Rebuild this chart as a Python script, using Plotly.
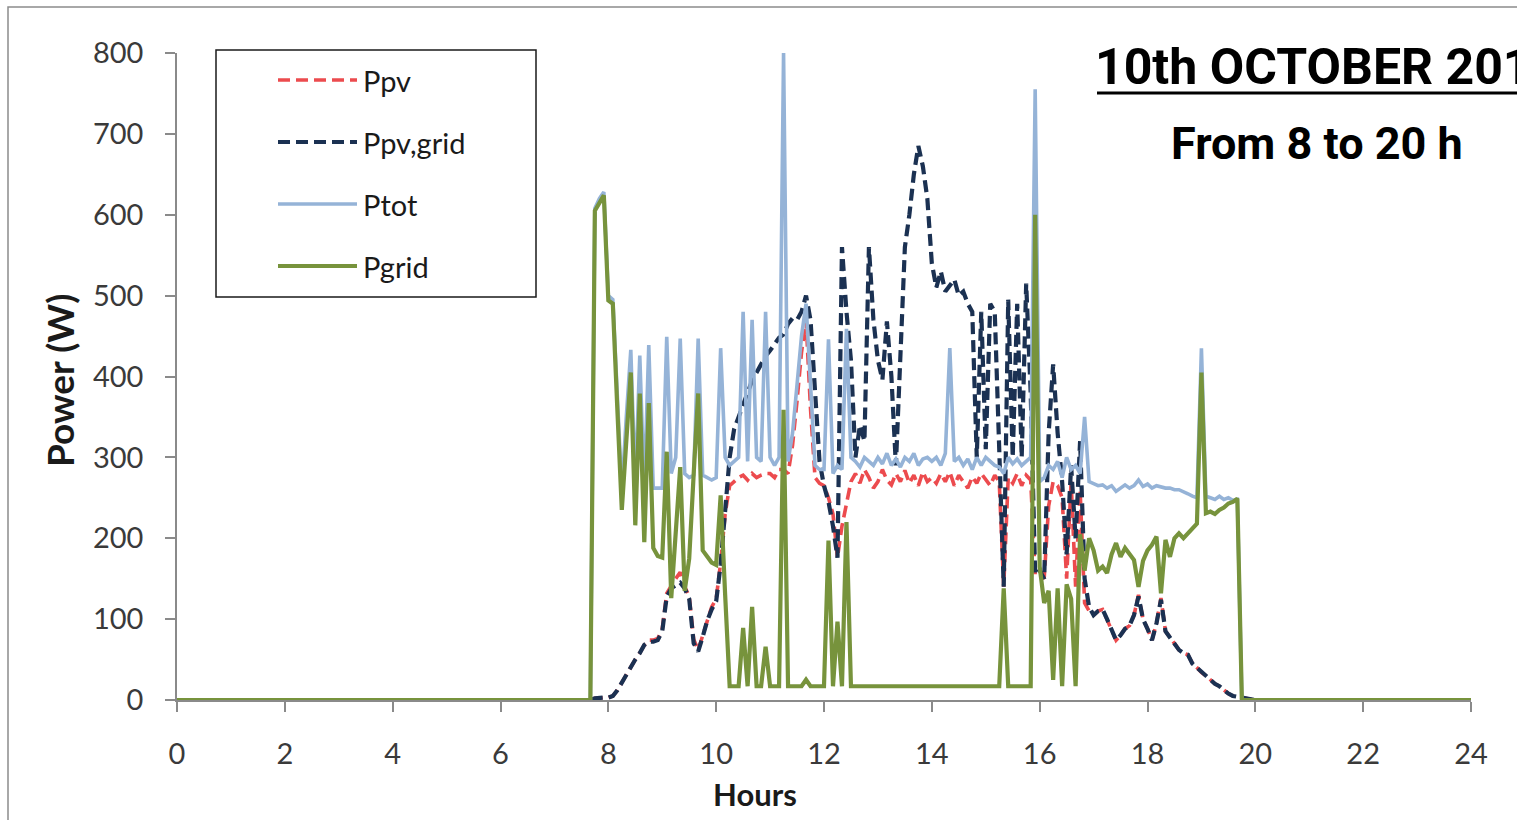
import plotly.graph_objects as go

# ---- Measured power on 10 October 2012 (5-minute samples, 7:00 to 20:00) ----
# Each row below is one hour (12 samples); the series are padded with 0 W at 0 h and 24 h.
HOURS = [0.0] + [k / 12 for k in range(84, 241)] + [24.0]

P_PV = [0,
    0, 0, 0, 0, 0, 0, 0, 0, 0, 2, 3, 3,
    3, 5, 12, 22, 30, 40, 50, 58, 68, 74, 74, 76,
    88, 132, 142, 150, 158, 140, 128, 75, 62, 80, 100, 115,
    125, 170, 230, 265, 270, 275, 278, 272, 280, 275, 278, 280,
    280, 275, 285, 285, 280, 315, 370, 430, 470, 360, 275, 268,
    265, 250, 230, 176, 215, 245, 270, 280, 268, 285, 275, 262,
    270, 285, 272, 266, 280, 270, 284, 268, 278, 265, 282, 270,
    275, 268, 280, 270, 282, 265, 278, 270, 262, 276, 268, 280,
    272, 265, 278, 270, 140, 275, 268, 280, 265, 278, 272, 155,
    155, 150, 240, 270, 265, 250, 150, 270, 140, 260, 120, 110,
    105, 110, 112, 100, 88, 74, 80, 88, 92, 105, 130, 100,
    88, 74, 95, 126, 85, 78, 70, 62, 58, 56, 45, 40,
    34, 30, 25, 20, 17, 12, 8, 5, 4, 3, 2, 1,
    0,
    0]

P_PV_GRID = [0,
    0, 0, 0, 0, 0, 0, 0, 0, 0, 2, 3, 3,
    3, 5, 12, 22, 30, 40, 50, 58, 68, 72, 72, 74,
    85, 128, 138, 142, 145, 138, 125, 70, 60, 78, 98, 112,
    122, 168, 232, 300, 335, 350, 365, 380, 395, 405, 415, 425,
    432, 440, 448, 452, 465, 472, 470, 480, 500, 470, 380, 295,
    265, 245, 215, 176, 560, 480, 420, 300, 340, 320, 560, 470,
    420, 396, 468, 400, 290, 420, 560, 600, 650, 685, 660, 620,
    540, 510, 530, 505, 512, 520, 500, 505, 490, 480, 300, 480,
    310, 490, 480, 300, 140, 495, 300, 490, 300, 515, 380, 155,
    160, 150, 330, 415, 330, 270, 180, 290, 200, 320, 150, 115,
    105, 110, 112, 100, 88, 74, 80, 88, 92, 105, 128, 100,
    88, 74, 95, 124, 85, 78, 70, 62, 58, 56, 45, 40,
    34, 30, 25, 20, 17, 12, 8, 5, 4, 3, 2, 1,
    0,
    0]

P_TOT = [0,
    0, 0, 0, 0, 0, 0, 0, 0, 0, 608, 620, 628,
    500, 495, 378, 258, 350, 433, 262, 426, 258, 439, 262, 262,
    262, 449, 280, 300, 447, 280, 275, 278, 447, 278, 275, 272,
    275, 435, 300, 290, 295, 300, 480, 295, 470, 300, 295, 480,
    300, 290, 300, 800, 295, 330, 390, 450, 490, 380, 290, 285,
    285, 446, 280, 290, 285, 459, 300, 295, 288, 300, 295, 290,
    300, 292, 305, 290, 298, 288, 300, 295, 305, 290, 298, 300,
    295, 300, 290, 305, 435, 295, 300, 290, 298, 285, 300, 290,
    300, 295, 290, 288, 280, 300, 292, 298, 290, 295, 300, 755,
    270, 275, 290, 285, 295, 275, 300, 285, 290, 280, 350, 270,
    268, 265, 266, 262, 265, 258, 262, 266, 262, 265, 272, 264,
    267, 262, 265, 263, 262, 262, 260, 260, 258, 255, 252, 250,
    435, 252, 250, 248, 252, 248, 250, 247, 248, 0, 0, 0,
    0,
    0]

P_GRID = [0,
    0, 0, 0, 0, 0, 0, 0, 0, 0, 605, 615, 624,
    494, 490, 360, 235, 320, 405, 216, 379, 195, 367, 188, 178,
    176, 307, 126, 210, 288, 135, 175, 280, 379, 185, 178, 170,
    167, 253, 130, 17, 17, 17, 89, 17, 115, 17, 17, 66,
    17, 17, 17, 359, 17, 17, 17, 17, 25, 17, 17, 17,
    17, 197, 17, 97, 17, 220, 17, 17, 17, 17, 17, 17,
    17, 17, 17, 17, 17, 17, 17, 17, 17, 17, 17, 17,
    17, 17, 17, 17, 17, 17, 17, 17, 17, 17, 17, 17,
    17, 17, 17, 17, 138, 17, 17, 17, 17, 17, 17, 600,
    165, 120, 135, 25, 138, 17, 143, 125, 17, 205, 160, 200,
    185, 160, 165, 157, 180, 194, 177, 188, 180, 173, 140, 172,
    185, 192, 202, 132, 198, 177, 200, 206, 200, 206, 212, 218,
    405, 231, 233, 230, 235, 238, 243, 245, 249, 0, 0, 0,
    0,
    0]

X_TICKS = list(range(0, 25, 2))
Y_TICKS = list(range(0, 801, 100))

SERIES = [
    ("Ppv", P_PV, "#EC4B4E", 3.6, "12px,6px"),
    ("Ppv,grid", P_PV_GRID, "#1B3152", 4.2, "12px,6px"),
    ("Ptot", P_TOT, "#95B3D7", 3.6, "solid"),
    ("Pgrid", P_GRID, "#77933C", 4.2, "solid"),
]

# ---- page geometry (pixels) ----
W, H = 1517, 820
L, R, T, B = 177, 1471, 53, 700          # plot area edges


def px(x):
    return (x - L) / (R - L)


def py(y):
    return (B - y) / (B - T)


BODY_FONT = "Lato, Carlito, Calibri, sans-serif"
TICK_FONT = dict(family=BODY_FONT, size=29, color="#3a3a3a")
AXIS_COLOR = "#8a8a8a"

fig = go.Figure()
for name, ys, color, width, dash in SERIES:
    fig.add_trace(go.Scatter(
        x=HOURS, y=ys, name=name, mode="lines",
        line=dict(color=color, width=width, dash=dash),
        showlegend=False, hoverinfo="x+y+name",
    ))

fig.update_layout(
    width=W, height=H,
    margin=dict(l=L, r=W - R, t=T, b=H - B, pad=0),
    paper_bgcolor="white", plot_bgcolor="white",
    showlegend=False,
)
fig.update_xaxes(
    range=[0, 24], tickmode="array", tickvals=X_TICKS,
    showline=True, linecolor=AXIS_COLOR, linewidth=1.5,
    ticks="outside", ticklen=10, tickwidth=1.5, tickcolor=AXIS_COLOR,
    tickfont=TICK_FONT, ticklabelstandoff=17,
    showgrid=False, zeroline=False,
)
fig.update_yaxes(
    range=[0, 800], tickmode="array", tickvals=Y_TICKS,
    showline=True, linecolor=AXIS_COLOR, linewidth=1.5,
    ticks="outside", ticklen=10, tickwidth=1.5, tickcolor=AXIS_COLOR,
    tickfont=TICK_FONT, ticklabelstandoff=16,
    showgrid=False, zeroline=False,
)

shapes = []
annotations = []

# outer chart frame
shapes.append(dict(type="rect", xref="paper", yref="paper",
                   x0=px(8), x1=px(1535), y0=py(835), y1=py(7),
                   line=dict(color="#8c8c8c", width=1.5), layer="below"))

# axis titles
annotations.append(dict(text="<b>Hours</b>", xref="paper", yref="paper",
                        x=px(755), y=py(794), xanchor="center", yanchor="middle",
                        showarrow=False,
                        font=dict(family=BODY_FONT, size=31, color="#1a1a1a")))
annotations.append(dict(text="<b>Power (W)</b>", xref="paper", yref="paper",
                        x=px(59), y=py(381), xanchor="center", yanchor="middle",
                        textangle=-90, showarrow=False,
                        font=dict(family=BODY_FONT, size=37, color="#1a1a1a")))

# legend box with line samples
shapes.append(dict(type="rect", xref="paper", yref="paper",
                   x0=px(216), x1=px(536), y0=py(297), y1=py(50),
                   line=dict(color="#1a1a1a", width=1.5), fillcolor="white"))
legend_rows = [80, 142, 204, 266]
for (name, ys, color, width, dash), yrow in zip(SERIES, legend_rows):
    shapes.append(dict(type="line", xref="paper", yref="paper",
                       x0=px(278), x1=px(357), y0=py(yrow), y1=py(yrow),
                       line=dict(color=color, width=width, dash=dash)))
    annotations.append(dict(text=name, xref="paper", yref="paper",
                            x=px(361), y=py(yrow), xanchor="left", yanchor="middle",
                            showarrow=False,
                            font=dict(family=BODY_FONT, size=29, color="#1a1a1a")))

# date heading (runs past the right edge of the chart frame)
TITLE_FONT = "Roboto, Liberation Sans, sans-serif"
annotations.append(dict(text="<b>10th OCTOBER 2012</b>", xref="paper", yref="paper",
                        x=px(1093), y=py(67), xanchor="left", yanchor="middle",
                        showarrow=False,
                        font=dict(family=TITLE_FONT, size=50, color="black")))
shapes.append(dict(type="line", xref="paper", yref="paper",
                   x0=px(1097), x1=px(1530), y0=py(93), y1=py(93),
                   line=dict(color="black", width=3)))
annotations.append(dict(text="<b>From 8 to 20 h</b>", xref="paper", yref="paper",
                        x=px(1317), y=py(143), xanchor="center", yanchor="middle",
                        showarrow=False,
                        font=dict(family=TITLE_FONT, size=45, color="black")))

fig.update_layout(shapes=shapes, annotations=annotations)

fig.write_html("out.html")
